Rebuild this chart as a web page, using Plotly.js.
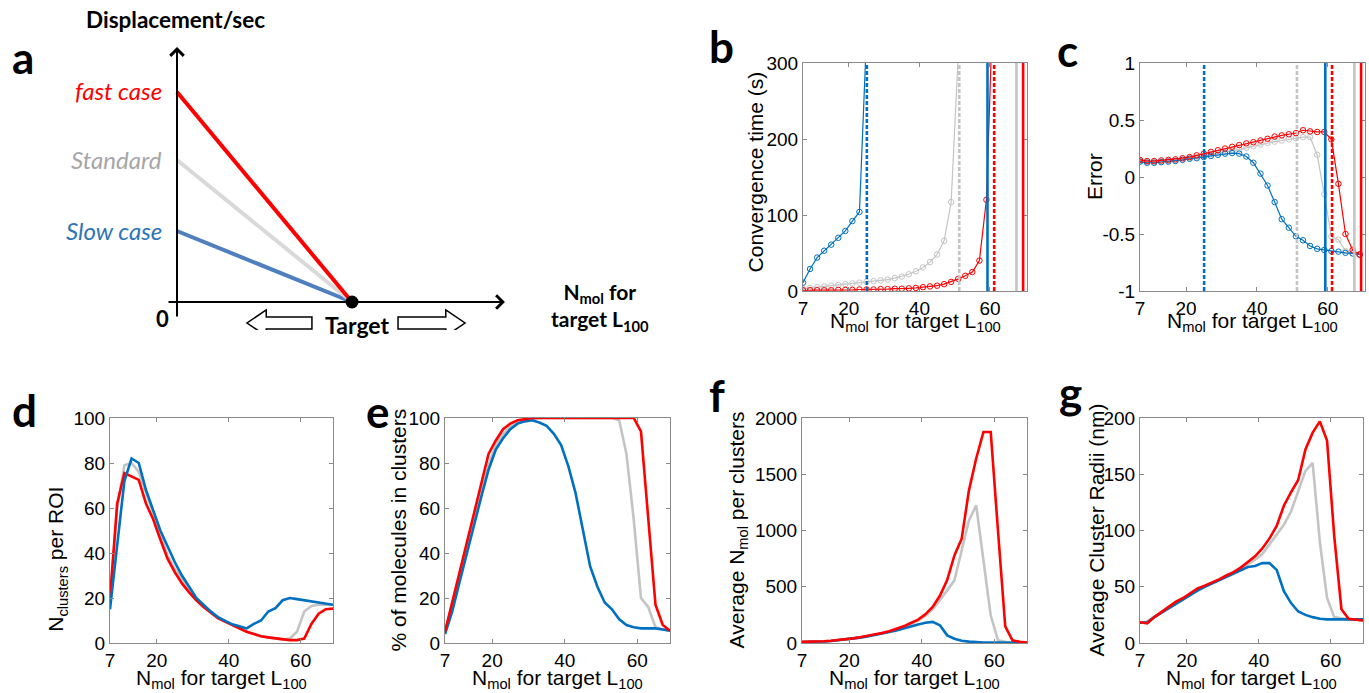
<!DOCTYPE html>
<html>
<head>
<meta charset="utf-8">
<script src="https://cdn.plot.ly/plotly-3.0.1.min.js"></script>
<style>html,body{margin:0;padding:0;background:#fff;}#chart{width:1369px;height:693px;}</style>
</head>
<body>
<div id="chart"></div>
<script>
// ---------------- DATA ----------------
const nmol = [7,9,11,13,15,17,19,21,23,25,27,29,31,33,35,37,39,41,43,45,47,49,51,53,55,57,59,61,63,65,67,69];

// panel a (schematic): displacement/sec at start, reaching 0 at target
const caseNames = ['Slow case', 'Standard', 'fast case'];
const caseSpeed = [0.338, 0.676, 1.0];
const targetPos = 1;

// panel b: convergence time (s)
const convBlueX = [7,9,11,13,15,17,19,21,23,25];
const convBlue  = [11,29,44,53,61,70,79,92,104,335];
const convGreyX = [7,9,11,13,15,17,19,21,23,25,27,29,31,33,35,37,39,41,43,45,47,49,51];
const convGrey  = [3,4,5,6,7,8,9,10,11,12,13,14,15,17,19,22,26,31,38,48,66,117,310];
const convRedX  = [7,9,11,13,15,17,19,21,23,25,27,29,31,33,35,37,39,41,43,45,47,49,51,53,55,57,59,61];
const convRed   = [1,1,1,1,1,1.5,1.5,1.5,2,2,2,2.5,2.5,3,3,3.5,4,5,6,7,9,12,16,20,25,40,120,400];

// vertical limit lines (b, c)
const limitX     = [25.1, 51.3, 59.3, 61.2, 67.5, 69.4];
const limitColor = ['blue','grey','blue','red','grey','red'];
const limitDash  = [true, true, false, true, false, false];

// panel c: error
const errBlue = [0.135,0.125,0.125,0.13,0.135,0.14,0.15,0.16,0.165,0.175,0.185,0.195,0.205,0.21,0.205,0.18,0.125,0.03,-0.075,-0.22,-0.37,-0.445,-0.52,-0.555,-0.605,-0.63,-0.64,-0.65,-0.655,-0.665,-0.67,-0.68];
const errGrey = [0.14,0.13,0.13,0.135,0.14,0.145,0.155,0.165,0.175,0.185,0.2,0.21,0.22,0.23,0.24,0.255,0.27,0.285,0.3,0.31,0.32,0.33,0.34,0.35,0.35,0.195,-0.15,-0.52,-0.55,-0.65,-0.67,-0.68];
const errRed  = [0.15,0.14,0.14,0.145,0.15,0.155,0.165,0.175,0.19,0.205,0.22,0.235,0.25,0.265,0.28,0.295,0.305,0.32,0.335,0.355,0.365,0.375,0.385,0.41,0.4,0.395,0.395,0.33,-0.06,-0.5,-0.64,-0.68];

// panel d: N clusters per ROI
const nclBlue = [15,45,72,82,80,68,59,50,43,36,30,25,20,17,14,11.5,10,8.3,7.4,6.5,8.5,10,14,15.5,19,20,19.5,19,18.5,18,17.5,17];
const nclGrey = [18,60,79,80,76,67,58,48,39,33,28,23.5,19.5,16.5,14,11.5,9.5,8,6.5,5,4,3,2.5,2,1.5,2,5,14,16.5,17,17,17];
const nclRed  = [20,62,75.5,74,72.5,62,55,46,37.5,31.5,26.5,22.5,19,16,13.5,11,9.5,8,6.5,5,4,3,2.5,2,1.5,1.3,1.3,2,8.5,13,15,15.3];

// panel e: % of molecules in clusters
const pctBlue = [4,14,27,40,53,65,77,86,91,95,97.5,98.5,99,98,96.5,93,88,78.5,66.5,50.5,34,25,18,15,10.5,8,7,6.5,6.5,6.5,6,5.5];
const pctGrey = [5,17,29.5,42,55,67,79,88,93,96,98,99,99.5,100,100,100,100,100,100,100,100,100,100,100,99,84,55,20,16,7,6,5.5];
const pctRed  = [5,18,31,44,57,70,84,90,95,97.5,99,99.5,100,100,100,100,100,100,100,100,100,100,100,100,100,100,100,94,55,17,8,5.5];

// panel f: average N_mol per cluster
const avgBlue = [8,8,10,14,18,24,31,39,48,58,70,82,96,112,130,150,165,180,188,157,68,38,20,12,6,4,3,2,2,2,2,2];
const avgGrey = [9,9,11,15,19,25,32,40,50,60,72,85,100,118,140,168,200,240,300,380,470,557,824,1090,1224,720,246,24,10,5,3,2];
const avgRed  = [10,10,12,16,20,26,33,41,51,62,74,88,104,123,148,178,208,255,320,420,560,779,927,1357,1640,1876,1876,1000,148,24,10,5];

// panel g: average cluster radii (nm)
const radBlue = [18,18.5,23,27,31,35,39,43,46.5,50,53,56,59,62,65,67.5,68.5,71,71,65,46,35.5,28,25,23,21.5,21,21,21,21,21,21];
const radGrey = [18,19,23.5,27.5,31.5,35.5,39.5,43.5,47.5,50.5,53,56,59.5,62.5,66,70,74,79,88,96,105,117,135,153,160,90,40,23,22,21,21,20];
const radRed  = [18.5,17.5,23,27.8,32,36.7,40,44,48.6,51,53.5,56.5,60,63,67,72,77,84,93,104,122,134,145,172,187,197,180,95,30,21.5,20.5,20];

// axis titles
const xTitleText = 'N<sub>mol</sub> for target L<sub>100</sub>';
const yTitles = ['Convergence time (s)', 'Error', 'N<sub>clusters</sub> per ROI', '% of molecules in clusters',
                 'Average N<sub>mol</sub> per clusters', 'Average Cluster Radii (nm)'];

// ---------------- STYLE ----------------
const COL = {blue:'#0070c0', grey:'#c4c4c4', red:'#ff0000'};
const SCHEM = {blue:'#4f7fbf', grey:'#d9d9d9', red:'#ff0000'};
const SCHEM_TXT = ['#2e75b6', '#a6a6a6', '#ff0000'];
const W = 1369, H = 693;
const px = p => p / W;
const py = p => 1 - p / H;
const FAM = 'Liberation Sans, Arial, sans-serif';
const TICKFONT = {family:FAM, size:19, color:'#000'};
const TITLEFONT = {family:FAM, size:21, color:'#000'};

function xAxis(l, r, range, anchor) {
  return {domain:[px(l), px(r)], range:range, anchor:anchor, showline:true, mirror:'ticks',
    linecolor:'#8a8a8a', linewidth:1, ticks:'inside', ticklen:4, tickcolor:'#8a8a8a',
    showgrid:false, zeroline:false, tickvals:[7,20,40,60], tickfont:TICKFONT, fixedrange:true};
}
function yAxis(t, b, range, anchor, dtick, ticktext) {
  const a = {domain:[py(b), py(t)], range:range, anchor:anchor, showline:true, mirror:'ticks',
    linecolor:'#8a8a8a', linewidth:1, ticks:'inside', ticklen:4, tickcolor:'#8a8a8a',
    showgrid:false, zeroline:false, dtick:dtick, tick0:0, tickfont:TICKFONT, fixedrange:true};
  if (ticktext) { a.tickmode = 'array'; a.tickvals = ticktext.map(Number); a.ticktext = ticktext; }
  return a;
}

const traces = [];
function mk(x, y, color, xa, ya, markers) {
  const t = {x:x, y:y, xaxis:xa, yaxis:ya, type:'scatter', hoverinfo:'skip',
    mode: markers ? 'lines+markers' : 'lines',
    line:{color:color, width: markers ? 1.2 : 2.6}};
  if (markers) t.marker = {symbol:'circle-open', size:5.5, color:color, line:{width:1, color:color}};
  traces.push(t);
}

// panel b
mk(convGreyX, convGrey, COL.grey, 'x', 'y', true);
mk(convBlueX, convBlue, COL.blue, 'x', 'y', true);
mk(convRedX, convRed, COL.red, 'x', 'y', true);
// panel c
mk(nmol, errGrey, COL.grey, 'x2', 'y2', true);
mk(nmol, errBlue, COL.blue, 'x2', 'y2', true);
mk(nmol, errRed, COL.red, 'x2', 'y2', true);
// panel d
mk(nmol, nclGrey, COL.grey, 'x3', 'y3');
mk(nmol, nclRed, COL.red, 'x3', 'y3');
mk(nmol, nclBlue, COL.blue, 'x3', 'y3');
// panel e
mk(nmol, pctGrey, COL.grey, 'x4', 'y4');
mk(nmol, pctBlue, COL.blue, 'x4', 'y4');
mk(nmol, pctRed, COL.red, 'x4', 'y4');
// panel f
mk(nmol, avgGrey, COL.grey, 'x5', 'y5');
mk(nmol, avgBlue, COL.blue, 'x5', 'y5');
mk(nmol, avgRed, COL.red, 'x5', 'y5');
// panel g
mk(nmol, radGrey, COL.grey, 'x6', 'y6');
mk(nmol, radBlue, COL.blue, 'x6', 'y6');
mk(nmol, radRed, COL.red, 'x6', 'y6');

// panel a schematic lines
const schemKeys = ['blue','grey','red'];
caseSpeed.forEach((s, i) => {
  traces.push({x:[0, targetPos], y:[s, 0], xaxis:'x7', yaxis:'y7', type:'scatter', mode:'lines',
    hoverinfo:'skip', line:{color:SCHEM[schemKeys[i]], width:4}});
});
traces.push({x:[targetPos], y:[0], xaxis:'x7', yaxis:'y7', type:'scatter', mode:'markers',
  hoverinfo:'skip', marker:{color:'#000', size:13, symbol:'circle'}});

// ---------------- LAYOUT ----------------
const shapes = [];
limitX.forEach((v, i) => {
  ['x','x2'].forEach((xa, k) => {
    shapes.push({type:'line', xref:xa, yref:(k===0?'y':'y2')+' domain', x0:v, x1:v, y0:0, y1:1,
      line:{color:COL[limitColor[i]], width:2.6, dash: limitDash[i] ? '4px,2px' : 'solid'}});
  });
});
// hollow block arrows in panel a (axis units of x7/y7)
function blockArrow(tail, tip, yc, bodyH, headH, headL) {
  const dir = Math.sign(tip - tail), base = tip - dir * headL;
  return 'M' + tail + ',' + (yc - bodyH) + ' L' + base + ',' + (yc - bodyH) + ' L' + base + ',' + (yc - headH) +
    ' L' + tip + ',' + yc + ' L' + base + ',' + (yc + headH) + ' L' + base + ',' + (yc + bodyH) +
    ' L' + tail + ',' + (yc + bodyH) + ' Z';
}
shapes.push({type:'path', xref:'x7', yref:'y7', path:blockArrow(0.771, 0.40, -0.10, 0.028, 0.062, 0.11), line:{color:'#000', width:1.5}, fillcolor:'#fff'});
shapes.push({type:'path', xref:'x7', yref:'y7', path:blockArrow(1.263, 1.646, -0.10, 0.028, 0.062, 0.11), line:{color:'#000', width:1.5}, fillcolor:'#fff'});

const LETTER = {family:'Lato, Open Sans, sans-serif', size:44, color:'#000'};
const SFONT = 'Lato, Open Sans, sans-serif';
const annotations = [
  {text:'<b>a</b>', x:px(23), y:py(57)},
  {text:'<b>b</b>', x:px(721), y:py(46)},
  {text:'<b>c</b>', x:px(1067), y:py(50)},
  {text:'<b>d</b>', x:px(25), y:py(410)},
  {text:'<b>e</b>', x:px(378), y:py(411)},
  {text:'<b>f</b>', x:px(717), y:py(395)},
  {text:'<b>g</b>', x:px(1070), y:py(392)}
].map(a => Object.assign(a, {xref:'paper', yref:'paper', showarrow:false, xanchor:'center', yanchor:'middle', font:LETTER}));

// axis titles as annotations (positions per panel)
const xTitleAxes = ['x', 'x2', 'x3', 'x4', 'x5', 'x6'];
const xTitleY    = [322, 322, 679, 679, 679, 679];
xTitleAxes.forEach((xa, i) => {
  annotations.push({xref:xa + ' domain', yref:'paper', x:0.5, y:py(xTitleY[i]), text:xTitleText, showarrow:false,
    xanchor:'center', yanchor:'middle', font:TITLEFONT});
});
const yTitleAxes = ['y', 'y2', 'y3', 'y4', 'y5', 'y6'];
const yTitleX    = [755, 1094, 57, 398, 737, 1096];
const yTitleY    = [0.52, 0.5, 0.37, 0.5, 0.5, 0.5];
yTitleAxes.forEach((ya, i) => {
  annotations.push({xref:'paper', yref:ya + ' domain', x:px(yTitleX[i]), y:yTitleY[i], text:yTitles[i], showarrow:false,
    textangle:-90, xanchor:'center', yanchor:'middle', font:TITLEFONT});
});

// panel a axes arrows
annotations.push({xref:'x7', yref:'y7', axref:'x7', ayref:'y7', x:1.874, y:0, ax:-0.057, ay:0, text:'', showarrow:true, arrowhead:4, arrowsize:1.3, arrowwidth:2, arrowcolor:'#000'});
annotations.push({xref:'x7', yref:'y7', axref:'x7', ayref:'y7', x:0, y:1.214, ax:0, ay:-0.076, text:'', showarrow:true, arrowhead:4, arrowsize:1.3, arrowwidth:2, arrowcolor:'#000'});
// panel a labels
caseNames.forEach((n, i) => {
  annotations.push({xref:'x7', yref:'y7', x:0, y:caseSpeed[i], text:'<i>' + n + '</i>', showarrow:false,
    xanchor:'right', yanchor:'middle', xshift:-13, yshift:1, font:{family:SFONT, size:24, color:SCHEM_TXT[i]}});
});
annotations.push({xref:'x7', yref:'y7', x:0, y:0, text:'<b>0</b>', showarrow:false, xanchor:'right', yanchor:'middle', xshift:-6, yshift:-16, font:{family:SFONT, size:22, color:'#000'}});
annotations.push({xref:'x7', yref:'y7', x:targetPos, y:0, text:'<b>Target</b>', showarrow:false, xanchor:'center', yanchor:'middle', xshift:5, yshift:-23, font:{family:SFONT, size:23, color:'#000'}});
annotations.push({xref:'paper', yref:'paper', x:px(176), y:py(20), text:'<b>Displacement/sec</b>', showarrow:false, xanchor:'center', yanchor:'middle', font:{family:SFONT, size:22.5, color:'#000'}});
annotations.push({xref:'paper', yref:'paper', x:px(600), y:py(307), text:'<b>N<sub>mol</sub> for<br>target L<sub>100</sub></b>', showarrow:false, xanchor:'center', yanchor:'middle', align:'center', font:{family:SFONT, size:21, color:'#000'}});

const ax7x = [(150 - 177) / 175, (520 - 177) / 175];
const ax7y = [(302 - 330) / 210, (302 - 30) / 210];

const layout = {
  width:W, height:H, margin:{l:0, r:0, t:0, b:0}, paper_bgcolor:'#fff', plot_bgcolor:'rgba(0,0,0,0)',
  showlegend:false, hovermode:false,
  xaxis:  xAxis(803, 1027, [7, 70.5], 'y'),
  yaxis:  yAxis(63, 291, [0, 300], 'x', 100),
  xaxis2: xAxis(1140, 1365, [7, 70.5], 'y2'),
  yaxis2: yAxis(63, 291, [-1, 1], 'x2', 0.5, ['-1','-0.5','0','0.5','1']),
  xaxis3: xAxis(110, 333, [7, 69], 'y3'),
  yaxis3: yAxis(418, 643, [0, 100], 'x3', 20),
  xaxis4: xAxis(445, 670, [7, 69], 'y4'),
  yaxis4: yAxis(418, 643, [0, 100], 'x4', 20),
  xaxis5: xAxis(802, 1027, [7, 69], 'y5'),
  yaxis5: yAxis(418, 643, [0, 2000], 'x5', 500),
  xaxis6: xAxis(1140, 1363, [7, 69], 'y6'),
  yaxis6: yAxis(418, 643, [0, 200], 'x6', 50),
  xaxis7: {domain:[px(150), px(520)], range:ax7x, anchor:'y7', visible:false, fixedrange:true},
  yaxis7: {domain:[py(330), py(30)], range:ax7y, anchor:'x7', visible:false, fixedrange:true},
  shapes:shapes, annotations:annotations
};

Plotly.newPlot('chart', traces, layout, {displayModeBar:false, staticPlot:true});
</script>
</body>
</html>
